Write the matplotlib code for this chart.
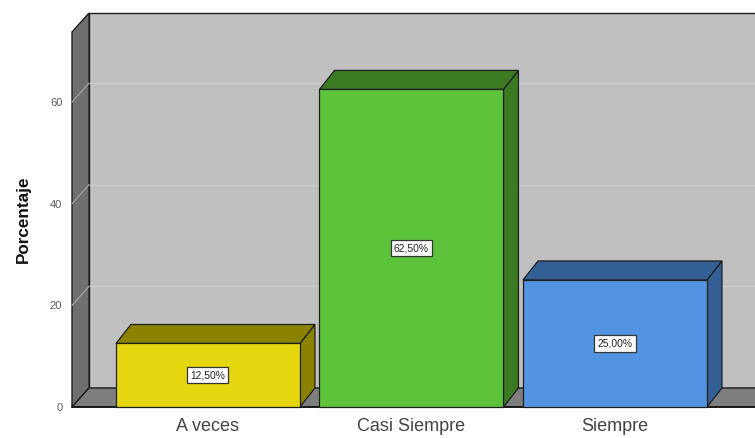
import matplotlib
matplotlib.use("Agg")
import matplotlib.pyplot as plt
from matplotlib.patches import Polygon, Rectangle

# Data
categories = ["A veces", "Casi Siempre", "Siempre"]
percentages = [12.5, 62.5, 25.0]
value_labels = ["12,50%", "62,50%", "25,00%"]
y_ticks = [0, 20, 40, 60]

front_colors = ["#e4d710", "#5dc33a", "#5294e2"]
shade_colors = ["#8b8300", "#3b7a22", "#345f95"]

W, H = 755, 438
fig = plt.figure(figsize=(W / 100, H / 100), dpi=100)
ax = fig.add_axes([72 / W, (H - 407) / H, (W - 72) / W, (407 - 32) / H])
ax.set_xlim(-0.668, 2.688)
ax.set_ylim(0, 73.8)
for s in ax.spines.values():
    s.set_visible(False)
ax.set_facecolor("none")


def depth(dx_px, dy_px):
    """Convert a pixel offset into data units."""
    x0, y0 = ax.transData.transform((0, 0))
    x1, y1 = ax.transData.inverted().transform((x0 + dx_px, y0 + dy_px))
    return x1, y1


xmin, xmax = ax.get_xlim()
ymin, ymax = ax.get_ylim()
wdx, wdy = depth(17, 19)
bdx, bdy = depth(15, 19)
edge = "#1e1e1e"

# Back wall
ax.add_patch(Polygon([(xmin + wdx, ymin + wdy), (xmax + wdx, ymin + wdy),
                      (xmax + wdx, ymax + wdy), (xmin + wdx, ymax + wdy)],
                     closed=True, facecolor="#c0c0c0", edgecolor=edge,
                     linewidth=1.0, clip_on=False, zorder=1))
# Grid lines on back wall and across left wall
for t in y_ticks[1:]:
    ax.plot([xmin + wdx, xmax + wdx], [t + wdy, t + wdy], color="#cdcdcd",
            linewidth=1.0, clip_on=False, zorder=1.5)
# Left wall
ax.add_patch(Polygon([(xmin, ymin), (xmin + wdx, ymin + wdy),
                      (xmin + wdx, ymax + wdy), (xmin, ymax)],
                     closed=True, facecolor="#6f6f6f", edgecolor=edge,
                     linewidth=1.0, clip_on=False, zorder=2))
for t in y_ticks[1:]:
    ax.plot([xmin, xmin + wdx], [t, t + wdy], color="#a0a0a0",
            linewidth=0.9, clip_on=False, zorder=2.5)
# Floor
ax.add_patch(Polygon([(xmin, ymin), (xmax, ymin),
                      (xmax + wdx, ymin + wdy), (xmin + wdx, ymin + wdy)],
                     closed=True, facecolor="#7e7e7e", edgecolor=edge,
                     linewidth=1.0, clip_on=False, zorder=3))
ax.plot([xmin, xmax], [ymin, ymin], color="#111111", linewidth=1.2,
        clip_on=False, zorder=3.5)

# Bars
bw = 0.904
for i, (v, fc, sc, lab) in enumerate(zip(percentages, front_colors,
                                          shade_colors, value_labels)):
    l, r = i - bw / 2, i + bw / 2
    ax.add_patch(Polygon([(r, 0), (r + bdx, bdy), (r + bdx, v + bdy), (r, v)],
                         closed=True, facecolor=sc, edgecolor=edge,
                         linewidth=0.9, clip_on=False, zorder=4))
    ax.add_patch(Polygon([(l, v), (r, v), (r + bdx, v + bdy), (l + bdx, v + bdy)],
                         closed=True, facecolor=sc, edgecolor=edge,
                         linewidth=0.9, clip_on=False, zorder=4))
    ax.add_patch(Rectangle((l, 0), bw, v, facecolor=fc, edgecolor=edge,
                           linewidth=0.9, clip_on=False, zorder=5))
    ax.text(i, v / 2, lab, ha="center", va="center", fontsize=7.4,
            family="Liberation Sans", color="#222222", zorder=6,
            bbox=dict(boxstyle="square,pad=0.3", facecolor="white",
                      edgecolor="#333333", linewidth=0.9))

# Axis ticks and labels
ax.set_yticks(y_ticks)
ax.set_yticklabels([str(t) for t in y_ticks], family="Liberation Sans",
                   fontsize=8, color="#5a5a5a")
ax.set_xticks(range(len(categories)))
ax.set_xticklabels(categories, family="Liberation Sans", fontsize=13,
                   color="#444444")
ax.tick_params(axis="y", length=0, pad=7)
ax.tick_params(axis="x", length=0, pad=8)
ax.set_ylabel("Porcentaje", family="Liberation Sans", fontsize=12.3,
              fontweight="bold", color="#111111", labelpad=14)

fig.savefig("out.png", dpi=100)
